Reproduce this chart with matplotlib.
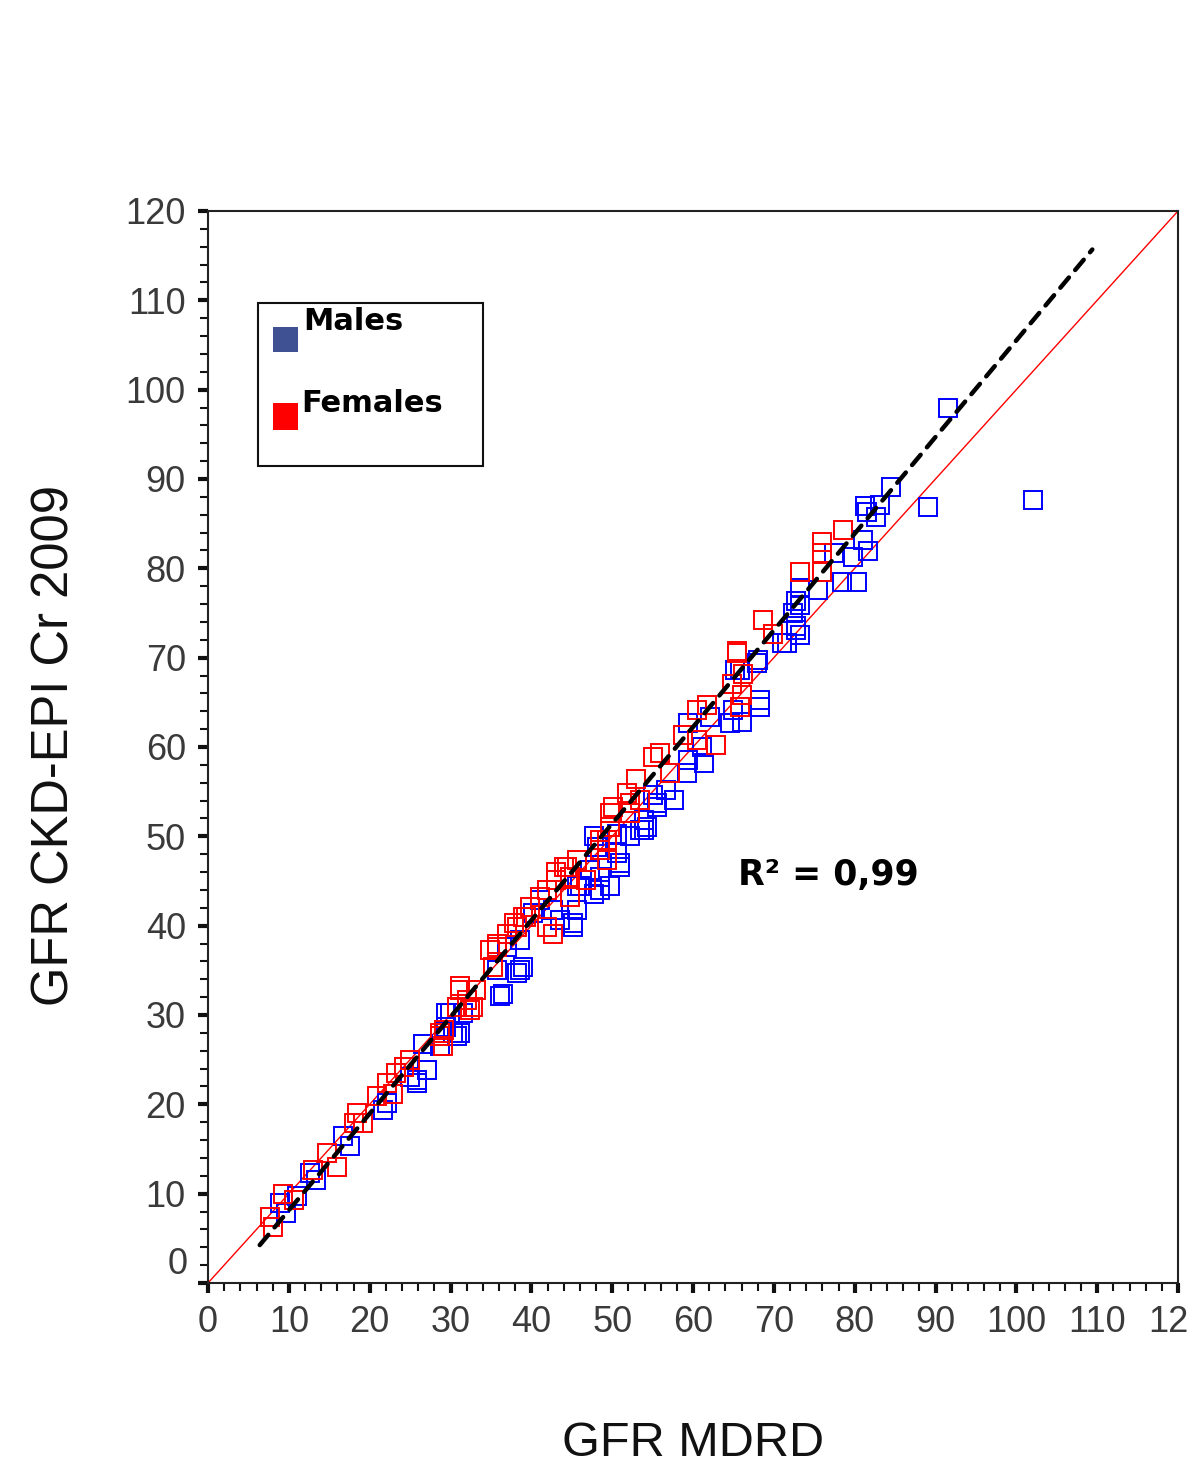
import numpy as np
import matplotlib
matplotlib.use('Agg')
import matplotlib.pyplot as plt
from matplotlib.patches import Rectangle
from matplotlib.ticker import MultipleLocator, FuncFormatter

# GFR MDRD (x) vs GFR CKD-EPI (y)
males = np.array([
    [91.5, 97.9], [89.1, 86.9], [102.0, 87.7], [84.5, 89.1], [83.1, 87.1], [81.3, 87.0],
    [82.6, 85.8], [81.5, 86.3], [81.0, 83.2], [81.6, 81.9], [79.8, 81.3], [77.4, 81.7],
    [78.4, 78.5], [80.3, 78.5], [75.5, 77.6], [73.2, 77.8], [72.8, 76.3], [72.4, 75.0],
    [68.1, 69.7], [72.8, 73.5], [73.2, 72.5], [71.6, 71.6], [65.2, 68.6], [73.2, 75.9],
    [72.8, 73.1], [71.0, 71.6], [67.9, 69.4], [65.8, 68.6], [68.3, 65.3], [68.3, 64.5],
    [65.0, 64.1], [64.6, 62.7], [66.0, 62.8], [62.1, 63.4], [59.4, 62.7], [61.1, 60.0],
    [61.3, 58.2], [59.4, 58.5], [59.2, 57.1], [56.7, 55.2], [57.6, 54.1], [55.1, 54.6],
    [55.5, 53.7], [53.9, 50.7], [52.2, 50.0], [50.6, 50.3], [48.1, 48.8], [53.9, 51.8],
    [53.4, 50.7], [55.5, 53.3], [47.7, 50.0], [50.6, 48.1], [51.0, 46.6], [47.3, 46.2],
    [48.5, 45.5], [45.6, 44.4], [48.5, 44.0], [45.6, 41.8], [45.2, 40.3], [40.2, 41.4],
    [42.7, 41.8], [38.6, 38.4], [39.0, 35.4], [38.2, 34.7], [36.5, 32.4], [35.7, 35.0],
    [31.6, 30.2], [29.9, 30.2], [30.3, 28.0], [29.5, 28.7], [28.7, 26.5], [29.5, 30.2],
    [30.8, 27.6], [26.6, 26.8], [27.1, 23.8], [25.8, 22.7], [25.0, 23.1], [21.7, 19.4],
    [22.1, 20.1], [16.7, 16.4], [17.6, 15.3], [12.6, 12.3], [13.4, 11.5], [11.0, 9.7],
    [8.9, 8.9], [9.7, 7.8], [54.3, 51.1], [51.0, 47.0], [49.7, 44.4], [47.7, 43.6],
    [45.2, 39.9], [43.5, 40.6], [38.6, 35.0], [36.1, 32.1], [31.2, 28.0], [27.1, 23.8],
    [25.8, 22.4], [29.9, 30.2], [41.1, 42.9], [37.0, 37.6], [46.0, 44.4],
])

females = np.array([
    [78.6, 84.3], [75.9, 83.0], [76.0, 81.7], [75.9, 79.6], [73.2, 79.6], [68.7, 74.2],
    [65.4, 70.7], [69.9, 72.7], [66.2, 68.2], [65.4, 70.5], [64.8, 67.1], [66.0, 65.8],
    [65.8, 64.5], [60.5, 64.1], [61.7, 64.7], [58.8, 61.3], [62.8, 60.2], [60.5, 60.8],
    [55.9, 59.3], [55.1, 58.9], [57.2, 57.1], [53.0, 56.4], [51.8, 54.8], [53.4, 54.1],
    [52.2, 52.6], [49.7, 52.6], [49.7, 51.1], [48.5, 49.6], [50.1, 53.3], [52.2, 52.6],
    [49.3, 49.6], [48.5, 48.5], [45.6, 47.4], [44.0, 46.6], [46.8, 45.1], [44.8, 45.5],
    [43.1, 46.0], [44.8, 43.2], [41.1, 43.2], [39.8, 42.1], [39.0, 41.0], [41.9, 39.9],
    [42.7, 39.1], [37.8, 40.3], [37.0, 39.1], [35.7, 37.6], [35.3, 35.4], [33.2, 32.8],
    [31.2, 32.8], [32.0, 31.7], [32.8, 30.9], [29.2, 28.3], [30.8, 30.9], [32.4, 30.6],
    [28.7, 27.6], [29.1, 26.5], [24.2, 24.2], [23.3, 23.5], [22.1, 22.4], [22.9, 21.2],
    [20.9, 20.9], [18.4, 19.0], [19.2, 17.9], [18.0, 17.9], [14.7, 14.5], [15.9, 13.0],
    [13.0, 12.7], [9.3, 10.0], [7.7, 7.4], [8.1, 6.3], [10.6, 9.3], [52.2, 53.7],
    [49.3, 49.6], [44.4, 46.6], [43.1, 45.1], [39.4, 41.0], [35.7, 38.0], [34.9, 37.3],
    [31.2, 33.2], [28.7, 28.0], [25.0, 25.0], [49.3, 47.4], [41.9, 44.0], [38.2, 39.9],
])

# regression line (dashed) and identity line
fit_slope = 1.082
fit_intercept = -2.68
fit_x = [6.4, 109.4]
ident = [0, 120]
r2_text = 'R² = 0,99'

fig = plt.figure(figsize=(11.87, 14.59), dpi=100)
ax = fig.add_axes([208/1187, 1-1283/1459, 970/1187, 1072/1459])

ax.plot(ident, ident, color='#ff0000', lw=1.0, zorder=2)
ax.plot(males[:, 0], males[:, 1], 's', ms=12.5, mfc='none', mec='#0000ff', mew=1.4, zorder=3)
ax.plot(females[:, 0], females[:, 1], 's', ms=12.5, mfc='none', mec='#ff0000', mew=1.4, zorder=4)
fx = np.array(fit_x)
ax.plot(fx, fit_slope*fx + fit_intercept, color='black', lw=3.2, ls=(0, (3, 2.2)),
        dash_capstyle='round', zorder=5)

ax.set_xlim(0, 120)
ax.set_ylim(0, 120)
for s in ax.spines.values():
    s.set_linewidth(1.5)
    s.set_color('#222222')

ax.xaxis.set_major_locator(MultipleLocator(10))
ax.yaxis.set_major_locator(MultipleLocator(10))
ax.xaxis.set_minor_locator(MultipleLocator(2))
ax.yaxis.set_minor_locator(MultipleLocator(2))
ax.tick_params(which='major', length=7, width=3, color='#111111', labelsize=26,
               labelcolor='#3a3a3a', pad=9)
ax.tick_params(which='minor', length=6, width=1.5, color='#111111')
for lab in ax.get_xticklabels() + ax.get_yticklabels():
    lab.set_family('Liberation Sans')
ax.yaxis.set_major_formatter(FuncFormatter(lambda v, p: '' if v == 0 else '%d' % v))
ax.annotate('0', xy=(0, 0), xycoords=('axes fraction', 'data'), xytext=(-15, 13),
            textcoords='offset points', ha='right', va='center', fontsize=26,
            color='#3a3a3a', family='Liberation Sans', annotation_clip=False)

# legend box
ax.add_patch(Rectangle((0.0515, 0.762), 0.232, 0.152, transform=ax.transAxes,
                       fill=False, ec='#111111', lw=1.5, zorder=6))
ax.add_patch(Rectangle((0.067, 0.8685), 0.026, 0.0233, transform=ax.transAxes,
                       fc='#3f5192', ec='none', zorder=6))
ax.add_patch(Rectangle((0.067, 0.7957), 0.026, 0.0252, transform=ax.transAxes,
                       fc='#ff0000', ec='none', zorder=6))
ax.text(0.098, 0.897, 'Males', transform=ax.transAxes, fontsize=22, fontweight='bold',
        va='center', ha='left', zorder=7)
ax.text(0.096, 0.820, 'Females', transform=ax.transAxes, fontsize=22, fontweight='bold',
        va='center', ha='left', zorder=7)

ax.text(65.6, 45.7, r2_text, fontsize=25, fontweight='bold', va='center', ha='left')

fig.text(55/1187, 1-746/1459, 'GFR CKD-EPI Cr 2009', rotation=90, ha='center', va='center',
         fontsize=36.5, family='Liberation Sans', color='#111111')
fig.text(693/1187, 1-1443/1459, 'GFR MDRD', ha='center', va='center',
         fontsize=35, family='Liberation Sans', color='#111111')

fig.savefig('out.png', dpi=100)
